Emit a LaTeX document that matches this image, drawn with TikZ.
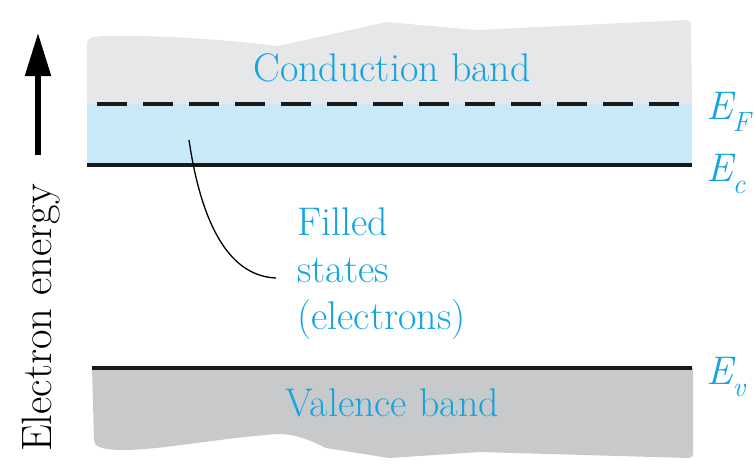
\documentclass[tikz,border=0pt]{standalone}
\usetikzlibrary{arrows.meta}
\definecolor{txtblue}{RGB}{20,165,225}
\definecolor{cbgrey}{RGB}{230,231,232}
\definecolor{vbgrey}{RGB}{200,201,203}
\definecolor{fillblue}{RGB}{199,233,248}
\tikzset{
  lbl/.style={text=txtblue,font=\fontsize{40}{47}\selectfont,inner sep=0pt},
  elbl/.style={text=txtblue,font=\fontsize{40}{47}\selectfont\itshape,inner sep=0pt,anchor=west},
  level/.style={line width=4.5pt,draw=black!90},
}
\newcommand{\sub}[1]{\raisebox{-0.3em}{\fontsize{28}{28}\selectfont #1}}
\begin{document}
\begin{tikzpicture}[x=1pt,y=-1pt]
\useasboundingbox (0,0) rectangle (754,474);
% conduction band
\fill[cbgrey] (87,104) -- (87,44) .. controls (87,37) and (95,36) .. (110,36)
  .. controls (160,35) and (230,40) .. (278,46) -- (387,22) -- (476,30) -- (686,20)
  .. controls (689,20) and (691,22) .. (691,26) -- (692,104) -- cycle;
\fill[fillblue] (87,104) rectangle (692,165);
\draw[level,dash pattern=on 30pt off 16pt] (97,104) -- (692,104);
\draw[level] (87,165) -- (692,165);
% valence band
\fill[vbgrey] (92,368) -- (693,368) -- (693,453) .. controls (693,457) and (691,458) .. (688,458)
  -- (480,452) -- (389,458) -- (326,448) .. controls (310,440) and (295,434) .. (278,434)
  .. controls (220,438) and (160,450) .. (124,450) .. controls (100,450) and (94,446) .. (94,440) -- cycle;
\draw[level] (92,368) -- (692,368);
% labels
\node[lbl] (cb) at (392,68) {Conduction band};
\node[lbl] (vb) at (392,403) {Valence band};
\node[elbl] (ef) at (706,112) {E\sub{F}};
\node[elbl] (ec) at (706,174) {E\sub{c}};
\node[elbl] (ev) at (706,377) {E\sub{v}};
\node[lbl,align=left,anchor=north west] (fs) at (297,208) {Filled\\states\\(electrons)};
\coordinate (fsrc) at (189,140);
\coordinate (fend) at (276,278);
\draw[line width=1.3pt] (fsrc) .. controls (200,215) and (225,276) .. (fend);
% energy axis
\coordinate (ab) at (38,155);
\coordinate (at) at (38,33);
\draw[line width=5.3pt,-{Triangle[length=43pt,width=25pt]}] (ab) -- (at);
\node[lbl,text=black,rotate=90,font=\fontsize{42.5}{47}\selectfont] (ee) at (41,318) {Electron energy};
\end{tikzpicture}
\end{document}
